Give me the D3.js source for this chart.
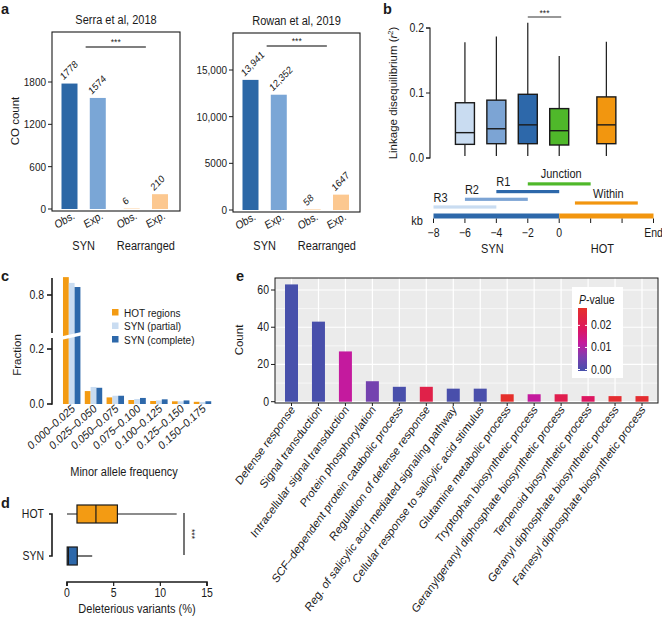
<!DOCTYPE html>
<html><head><meta charset="utf-8">
<script src="https://cdn.jsdelivr.net/npm/d3@7"></script>
<style>
body{margin:0;background:#fff}
svg{display:block}
text{font-family:"Liberation Sans",Arial,Helvetica,sans-serif;fill:#1a1a1a}
</style>
</head><body>
<svg id="fig" width="662" height="618"></svg>
<script>
// ---------------- DATA ----------------
// Panel a
const aBarLabels = ["Obs.", "Exp.", "Obs.", "Exp."];
const aGroupLabels = ["SYN", "Rearranged"];
const aTitles = ["Serra et al, 2018", "Rowan et al, 2019"];
const serraCounts = [1778, 1574, 6, 210];
const rowanCounts = [13941, 12352, 58, 1647];
const serraTicks = [0, 600, 1200, 1800];
const rowanTicks = [0, 5000, 10000, 15000];

// Panel b
const ldRegions = ["R3", "R2", "R1", "Junction", "Within"];
const ldStartKb = [-8, -6, -4, -2, 1];
const ldEndKb = [-4, -2, 0, 2, 5];
const ldWhiskerLow = [0.003, 0.003, 0.003, 0.003, 0.003];
const ldQ1 = [0.021, 0.022, 0.022, 0.020, 0.022];
const ldMedian = [0.039, 0.045, 0.051, 0.042, 0.051];
const ldQ3 = [0.085, 0.089, 0.098, 0.076, 0.094];
const ldWhiskerHigh = [0.178, 0.187, 0.208, 0.157, 0.179];
const ldTicks = [0, 0.1, 0.2];
const kbTicks = [-8, -6, -4, -2, 0, 2, 4, 6];
const kbTickLabels = ["\u22128", "\u22126", "\u22124", "\u22122", "0", "", "", "End"];
const kbSegments = ["SYN", "HOT"];
const kbSegStart = [-8, 0];
const kbSegEnd = [0, 6];

// Panel c
const mafBins = ["0.000\u20130.025", "0.025\u20130.050", "0.050\u20130.075", "0.075\u20130.100", "0.100\u20130.125", "0.125\u20130.150", "0.150\u20130.175"];
const mafSeries = ["HOT regions", "SYN (partial)", "SYN (complete)"];
const hotFraction = [0.865, 0.047, 0.024, 0.0145, 0.011, 0.0098, 0.008];
const synPartialFraction = [0.844, 0.062, 0.030, 0.018, 0.013, 0.0098, 0.007];
const synCompleteFraction = [0.829, 0.059, 0.030, 0.022, 0.017, 0.013, 0.010];
const fracTicksLow = [0.0, 0.2];
const fracTicksHigh = [0.8];

// Panel d
const delCats = ["HOT", "SYN"];
const delLow = [0, 0];
const delQ1 = [1.07, 0.02];
const delMedian = [3.1, 0.15];
const delQ3 = [5.4, 1.1];
const delHigh = [11.75, 2.7];
const delTicks = [0, 5, 10, 15];

// Panel e
const goTerms = ["Defense response", "Signal transduction", "Intracellular signal transduction",
  "Protein phosphorylation", "SCF\u2013dependent  protein catabolic process", "Regulation of defense response",
  "Reg. of salicylic acid mediated signaling pathway", "Cellular response to salicylic acid stimulus",
  "Glutamine metabolic process", "Tryptophan biosynthetic process",
  "Geranylgeranyl diphosphate biosynthetic process", "Terpenoid biosynthetic process",
  "Geranyl diphosphate biosynthetic process", "Farnesyl diphosphate biosynthetic process"];
const goCounts = [63, 43, 27, 11, 8, 8, 7, 7, 4, 4, 4, 3, 3, 3];
const goPvalues = [0.0001, 0.0002, 0.012, 0.005, 0.0003, 0.022, 0.0003, 0.0004, 0.027, 0.012, 0.021, 0.018, 0.026, 0.026];
const countTicks = [0, 20, 40, 60];
const countMinorTicks = [10, 30, 50, 70];
const pTicks = [0, 0.01, 0.02];
const pLimits = [0, 0.0272];

// ---------------- DRAWING ----------------
const svg = d3.select("#fig");
svg.append("rect").attr("width", 662).attr("height", 618).attr("fill", "#fff");
const INK = "#1a1a1a";
const SY = 1.15; // text in the reference is slightly taller than wide

function T(g, x, y, s, o = {}) {
  const sy = o.sy !== undefined ? o.sy : SY;
  const rot = o.rotate !== undefined ? ` rotate(${o.rotate})` : "";
  const t = g.append("text").attr("x", 0).attr("y", 0).text(s)
    .attr("transform", `translate(${x},${y}) scale(1,${sy})${rot}`)
    .attr("font-size", o.size || 10.5)
    .attr("text-anchor", o.anchor || "start");
  if (o.weight) t.attr("font-weight", o.weight);
  return t;
}
const fmtCount = v => v >= 10000 ? d3.format(",")(v) : String(v);

// Panel letters
[["a", 1, 14], ["b", 383, 14], ["c", 1, 281], ["d", 1, 508], ["e", 236, 281]].forEach(p =>
  T(svg, p[1], p[2], p[0], { size: 14.5, weight: "bold", sy: 1 }));

// ---------- Panel a ----------
const aColors = ["#2b67a6", "#7aa6d6", "#fcc890", "#fcc890"];
function drawA(cfg) {
  const g = svg.append("g");
  const [L, Tp, R, B] = cfg.frame;
  const y = d3.scaleLinear().domain([0, cfg.ticks[cfg.ticks.length - 1]]).range(cfg.yRange);
  const pos = i => i + (i >= 2 ? 0.2 : 0);
  const x = d3.scaleLinear().domain([0, 3.2]).range([L + 17.5, L + 108]);
  const bw = 16;
  g.selectAll("rect.bar").data(cfg.values).join("rect")
    .attr("x", (d, i) => x(pos(i)) - bw / 2).attr("width", bw)
    .attr("y", d => y(d)).attr("height", d => y(0) - y(d))
    .attr("fill", (d, i) => aColors[i]);
  cfg.values.forEach((v, i) => {
    T(g, x(pos(i)) - 6, y(v) - 3, fmtCount(v), { size: 9, rotate: -42 });
  });
  g.append("rect").attr("x", L).attr("y", Tp).attr("width", R - L).attr("height", B - Tp)
    .attr("fill", "none").attr("stroke", INK).attr("stroke-width", 1.1);
  cfg.ticks.forEach(t => {
    g.append("line").attr("x1", L - 4).attr("x2", L).attr("y1", y(t)).attr("y2", y(t)).attr("stroke", INK);
    T(g, L - 6, y(t) + 4, fmtCount(t), { size: 10, anchor: "end" });
  });
  T(g, (L + R) / 2, Tp - 8, cfg.title, { size: 11, anchor: "middle" });
  aBarLabels.forEach((s, i) => T(g, x(pos(i)) + 6, B + 7, s, { size: 10, anchor: "end", rotate: -27 }));
  T(g, (x(pos(0)) + x(pos(1))) / 2, 250, aGroupLabels[0], { size: 11, anchor: "middle" });
  T(g, (x(pos(2)) + x(pos(3))) / 2, 250, aGroupLabels[1], { size: 11, anchor: "middle" });
  const s1 = (x(pos(0)) + x(pos(1))) / 2 + 2, s2 = (x(pos(2)) + x(pos(3))) / 2;
  g.append("line").attr("x1", s1).attr("x2", s2).attr("y1", cfg.sigY).attr("y2", cfg.sigY)
    .attr("stroke", "#555").attr("stroke-width", 1.3);
  T(g, (s1 + s2) / 2, cfg.sigY - 2, "***", { size: 8.5, anchor: "middle" });
}
drawA({ frame: [52, 32, 180, 211], ticks: serraTicks, yRange: [209, 82], values: serraCounts, title: aTitles[0], sigY: 47 });
drawA({ frame: [233, 33, 360, 212], ticks: rowanTicks, yRange: [210, 70], values: rowanCounts, title: aTitles[1], sigY: 46 });
T(svg, 19, 121, "CO count", { size: 11.5, anchor: "middle", rotate: -90, sy: 1 });

// ---------- Panel b ----------
{
  const g = svg.append("g");
  const ldColors = ["#c9dcf1", "#7ca4d4", "#2d68aa", "#4fb82a", "#f2960f"];
  const kb = d3.scaleLinear().domain([-8, 6]).range([433.5, 653.5]);
  const y = d3.scaleLinear().domain([0, 0.2]).range([158, 28]);
  g.append("path").attr("d", `M426,${y(0)}H430V${y(0.2)}H426`).attr("fill", "none").attr("stroke", INK).attr("stroke-width", 1.1);
  ldTicks.forEach(t => {
    g.append("line").attr("x1", 426).attr("x2", 430).attr("y1", y(t)).attr("y2", y(t)).attr("stroke", INK);
    T(g, 424, y(t) + 4, d3.format(".1f")(t), { size: 10.5, anchor: "end" });
  });
  const ylab = g.append("text").attr("transform", "translate(397,93) rotate(-90)")
    .attr("text-anchor", "middle").attr("font-size", 11.5);
  ylab.append("tspan").text("Linkage disequilibrium (");
  ylab.append("tspan").text("r").attr("font-style", "italic");
  ylab.append("tspan").text("2").attr("font-size", 7.5).attr("dy", -4);
  ylab.append("tspan").text(")").attr("dy", 4);

  const bw = 19;
  ldRegions.forEach((r, i) => {
    const cx = kb((ldStartKb[i] + ldEndKb[i]) / 2);
    g.append("line").attr("x1", cx).attr("x2", cx).attr("y1", y(ldWhiskerLow[i])).attr("y2", y(ldWhiskerHigh[i]))
      .attr("stroke", INK).attr("stroke-width", 1.2);
    g.append("rect").attr("x", cx - bw / 2).attr("width", bw).attr("y", y(ldQ3[i])).attr("height", y(ldQ1[i]) - y(ldQ3[i]))
      .attr("fill", ldColors[i]).attr("stroke", INK).attr("stroke-width", 1.4);
    g.append("line").attr("x1", cx - bw / 2).attr("x2", cx + bw / 2).attr("y1", y(ldMedian[i])).attr("y2", y(ldMedian[i]))
      .attr("stroke", INK).attr("stroke-width", 1.4);
  });
  const c1 = kb((ldStartKb[2] + ldEndKb[2]) / 2), c2 = kb((ldStartKb[3] + ldEndKb[3]) / 2);
  g.append("line").attr("x1", c1).attr("x2", c2 + 2).attr("y1", 17).attr("y2", 17).attr("stroke", "#333").attr("stroke-width", 1.1);
  T(g, (c1 + c2) / 2 + 1, 16, "***", { size: 8.5, anchor: "middle" });

  const rowY = [207, 199.3, 191.6, 183.9, 203];
  ldRegions.forEach((r, i) => {
    g.append("rect").attr("x", kb(ldStartKb[i])).attr("width", kb(ldEndKb[i]) - kb(ldStartKb[i]))
      .attr("y", rowY[i] - 1.6).attr("height", 3.2).attr("fill", ldColors[i]);
    const anchor = r.startsWith("R") ? "start" : "middle";
    const lx = r.startsWith("R") ? kb(ldStartKb[i]) : kb((ldStartKb[i] + ldEndKb[i]) / 2) + 2;
    T(g, lx, rowY[i] - 5.5, r, { size: 11, anchor });
  });
  const segColors = ["#2d68aa", "#f2960f"];
  kbSegments.forEach((s, i) => {
    g.append("rect").attr("x", kb(kbSegStart[i])).attr("width", kb(kbSegEnd[i]) - kb(kbSegStart[i]))
      .attr("y", 213.5).attr("height", 5).attr("fill", segColors[i]);
    T(g, kb((kbSegStart[i] + kbSegEnd[i]) / 2) - 4, 253, s, { size: 11, anchor: "middle" });
  });
  kbTicks.forEach((k, i) => {
    g.append("line").attr("x1", kb(k)).attr("x2", kb(k)).attr("y1", 218.5).attr("y2", 223).attr("stroke", INK).attr("stroke-width", 1);
    if (kbTickLabels[i]) T(g, kb(k), 236.5, kbTickLabels[i], { size: 10.5, anchor: "middle" });
  });
  T(g, 417, 225, "kb", { size: 11, anchor: "middle" });
}

// ---------- Panel c ----------
{
  const g = svg.append("g");
  const cColors = ["#f39b13", "#c9dcf1", "#2d68aa"];
  const series = [hotFraction, synPartialFraction, synCompleteFraction];
  const x0 = d3.scaleBand().domain(mafBins).range([60.8, 60.8 + 7 * 21.8]).paddingInner(0.2).paddingOuter(0.1);
  const x1 = d3.scaleBand().domain(mafSeries).range([0, x0.bandwidth()]);
  const yLow = d3.scaleLinear().domain([0, 0.2]).range([404, 349]);
  const yUp = d3.scaleLinear().domain([0.8, 0.9]).range([295, 267.5]);
  const yv = v => v > 0.5 ? yUp(v) : yLow(v);
  mafBins.forEach((b, bi) => {
    mafSeries.forEach((s, si) => {
      const v = series[si][bi];
      g.append("rect").attr("x", x0(b) + x1(s)).attr("width", x1.bandwidth())
        .attr("y", yv(v)).attr("height", yLow(0) - yv(v)).attr("fill", cColors[si]);
    });
  });
  const bx = x0(mafBins[0]);
  g.append("polygon").attr("points", `${bx - 1},339.8 ${bx + x0.bandwidth() + 1},335.6 ${bx + x0.bandwidth() + 1},332 ${bx - 1},336.2`).attr("fill", "#fff");
  const ax = g.append("g").attr("stroke", INK).attr("stroke-width", 1.6);
  ax.append("line").attr("x1", 52).attr("x2", 52).attr("y1", yLow(0) + 0.8).attr("y2", 338);
  ax.append("line").attr("x1", 52).attr("x2", 52).attr("y1", 333).attr("y2", 278);
  fracTicksLow.forEach(t => {
    ax.append("line").attr("x1", 47).attr("x2", 52).attr("y1", yLow(t)).attr("y2", yLow(t));
    T(g, 44, yLow(t) + 4, d3.format(".1f")(t), { size: 10.5, anchor: "end" });
  });
  fracTicksHigh.forEach(t => {
    ax.append("line").attr("x1", 47).attr("x2", 52).attr("y1", yUp(t)).attr("y2", yUp(t));
    T(g, 44, yUp(t) + 4, d3.format(".1f")(t), { size: 10.5, anchor: "end" });
  });
  T(g, 21, 355, "Fraction", { size: 11.5, anchor: "middle", rotate: -90, sy: 1 });
  mafBins.forEach(b => T(g, x0(b) + x0.bandwidth() / 2 + 4, 410, b, { size: 10.2, anchor: "end", rotate: -38 }));
  T(g, 124, 476, "Minor allele frequency", { size: 11, anchor: "middle" });
  mafSeries.forEach((s, i) => {
    g.append("rect").attr("x", 112).attr("y", 309 + i * 13.5).attr("width", 6.5).attr("height", 6.5).attr("fill", cColors[i]);
    T(g, 124, 316.5 + i * 13.5, s, { size: 10 });
  });
}

// ---------- Panel d ----------
{
  const g = svg.append("g");
  const dColors = ["#f39b13", "#2d68aa"];
  const x = d3.scaleLinear().domain([0, 15]).range([67, 207]);
  const y = d3.scalePoint().domain(delCats).range([514, 556]);
  const bh = 18;
  delCats.forEach((c, i) => {
    const cy = y(c);
    g.append("line").attr("x1", x(delLow[i])).attr("x2", x(delHigh[i])).attr("y1", cy).attr("y2", cy).attr("stroke", INK).attr("stroke-width", 1.2);
    g.append("rect").attr("x", x(delQ1[i])).attr("width", x(delQ3[i]) - x(delQ1[i])).attr("y", cy - bh / 2).attr("height", bh)
      .attr("fill", dColors[i]).attr("stroke", INK).attr("stroke-width", 1.2);
    g.append("line").attr("x1", x(delMedian[i])).attr("x2", x(delMedian[i])).attr("y1", cy - bh / 2).attr("y2", cy + bh / 2).attr("stroke", INK).attr("stroke-width", 1.2);
    T(g, 44, cy + 4, c, { size: 10.5, anchor: "end" });
  });
  g.append("path").attr("d", `M49,${y("HOT")}H52V${y("SYN")}H49`).attr("fill", "none").attr("stroke", INK).attr("stroke-width", 1.6);
  g.append("path").attr("d", `M${x(0)},586V582H${x(15)}V586`).attr("fill", "none").attr("stroke", INK).attr("stroke-width", 1.6);
  delTicks.forEach(t => {
    g.append("line").attr("x1", x(t)).attr("x2", x(t)).attr("y1", 582).attr("y2", 586).attr("stroke", INK).attr("stroke-width", 1.2);
    T(g, x(t), 597, String(t), { size: 10.5, anchor: "middle" });
  });
  T(g, 137, 613, "Deleterious variants (%)", { size: 11, anchor: "middle" });
  g.append("line").attr("x1", 184).attr("x2", 184).attr("y1", 513).attr("y2", 555).attr("stroke", INK).attr("stroke-width", 1.2);
  T(g, 189, 534, "***", { size: 8.5, anchor: "middle", rotate: 90, sy: 1 });
}

// ---------- Panel e ----------
{
  const g = svg.append("g");
  const P = { L: 275, R: 658, T: 278, B: 403 };
  const x = d3.scalePoint().domain(goTerms).range([291.5, 642]);
  const y = d3.scaleLinear().domain([0, 60]).range([401.7, 290]);
  const pColor = d3.scaleLinear().domain([0, 0.006, 0.012, 0.018, 0.0272])
    .range(["#4650ab", "#7d3fb0", "#c41a9e", "#dd1660", "#e5302a"]);
  g.append("rect").attr("x", P.L).attr("y", P.T).attr("width", P.R - P.L).attr("height", P.B - P.T).attr("fill", "#ebebeb");
  countMinorTicks.forEach(t => g.append("line").attr("x1", P.L).attr("x2", P.R).attr("y1", y(t)).attr("y2", y(t)).attr("stroke", "#fff").attr("stroke-width", 0.6));
  countTicks.forEach(t => g.append("line").attr("x1", P.L).attr("x2", P.R).attr("y1", y(t)).attr("y2", y(t)).attr("stroke", "#fff").attr("stroke-width", 1.2));
  goTerms.forEach(t => g.append("line").attr("x1", x(t)).attr("x2", x(t)).attr("y1", P.T).attr("y2", P.B).attr("stroke", "#fff").attr("stroke-width", 1.2));
  const bw = 13;
  g.selectAll("rect.gob").data(goCounts).join("rect")
    .attr("x", (d, i) => x(goTerms[i]) - bw / 2).attr("width", bw)
    .attr("y", d => y(d)).attr("height", d => y(0) - y(d))
    .attr("fill", (d, i) => pColor(goPvalues[i]));
  g.append("rect").attr("x", P.L).attr("y", P.T).attr("width", P.R - P.L).attr("height", P.B - P.T).attr("fill", "none").attr("stroke", INK).attr("stroke-width", 1);
  countTicks.forEach(t => {
    g.append("line").attr("x1", P.L - 4).attr("x2", P.L).attr("y1", y(t)).attr("y2", y(t)).attr("stroke", INK);
    T(g, P.L - 6, y(t) + 4, String(t), { size: 10.5, anchor: "end" });
  });
  goTerms.forEach(t => {
    g.append("line").attr("x1", x(t)).attr("x2", x(t)).attr("y1", P.B).attr("y2", P.B + 3).attr("stroke", INK);
    T(g, x(t) + 4, 410, t, { size: 10.6, anchor: "end", rotate: -50 });
  });
  T(g, 243, 340, "Count", { size: 11.5, anchor: "middle", rotate: -90, sy: 1 });
  g.append("rect").attr("x", 572).attr("y", 287).attr("width", 51).attr("height", 91).attr("fill", "#fff");
  const lt = T(g, 579, 304, "", { size: 10.5 });
  lt.append("tspan").text("P").attr("font-style", "italic");
  lt.append("tspan").text("-value");
  const py = d3.scaleLinear().domain(pLimits).range([369.5, 309.5]);
  const grad = svg.append("defs").append("linearGradient").attr("id", "pgrad").attr("x1", 0).attr("x2", 0).attr("y1", 1).attr("y2", 0);
  d3.range(0, 1.0001, 0.05).forEach(f => grad.append("stop").attr("offset", f).attr("stop-color", pColor(pLimits[0] + f * (pLimits[1] - pLimits[0]))));
  g.append("rect").attr("x", 578).attr("width", 9).attr("y", py(pLimits[1]) - 1.5).attr("height", py(pLimits[0]) - py(pLimits[1]) + 3).attr("fill", "url(#pgrad)");
  pTicks.forEach(p => {
    g.append("line").attr("x1", 578).attr("x2", 580).attr("y1", py(p)).attr("y2", py(p)).attr("stroke", "#fff");
    g.append("line").attr("x1", 585).attr("x2", 587).attr("y1", py(p)).attr("y2", py(p)).attr("stroke", "#fff");
    T(g, 591, py(p) + 4, d3.format(".2f")(p), { size: 10.5 });
  });
}
</script>
</body></html>
